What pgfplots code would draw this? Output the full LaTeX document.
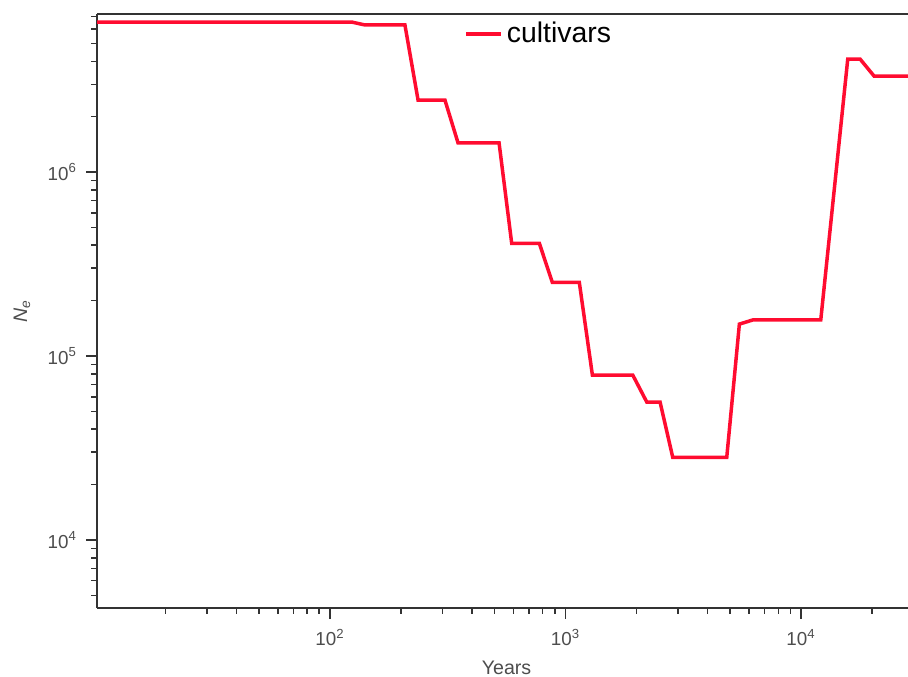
\documentclass[border=0pt]{standalone}
\usepackage{pgfplots}
\pgfplotsset{compat=1.18}
\usepackage{fontspec}
\setmainfont{Liberation Sans}
\definecolor{ne}{RGB}{255,12,48}
\definecolor{axgray}{RGB}{51,51,51}
\definecolor{lblgray}{RGB}{77,77,77}
\begin{document}
\begin{tikzpicture}
\begin{axis}[
  scale only axis,
  width=405.5pt, height=297pt,
  xmode=log, ymode=log,
  xmin=10.25, xmax=28440,
  ymin=4266, ymax=7.23e6,
  axis x line*=bottom, axis y line*=left,
  axis line style={-, draw=axgray, line width=1pt},
  clip=false,
  tick align=outside,
  major tick length=5.5pt, minor tick length=3pt,
  every tick/.style={draw=axgray, line width=0.75pt},
  xtick={100,1000,10000},
  xticklabels={10\textsuperscript{2},10\textsuperscript{3},10\textsuperscript{4}},
  minor xtick={20,30,40,50,60,70,80,90,200,300,400,500,600,700,800,900,2000,3000,4000,5000,6000,7000,8000,9000,20000},
  ytick={10000,100000,1000000},
  yticklabels={10\textsuperscript{4},10\textsuperscript{5},10\textsuperscript{6}},
  minor ytick={5000,6000,7000,8000,9000,20000,30000,40000,50000,60000,70000,80000,90000,200000,300000,400000,500000,600000,700000,800000,900000,2000000,3000000,4000000,5000000,6000000,7000000},
  tick label style={font=\fontsize{9.4}{11}\selectfont, text=lblgray},
  xticklabel style={yshift=-1.5pt},
  yticklabel style={xshift=-1pt},
  xlabel={Years},
  ylabel={\textit{N}\textsubscript{\textit{e}}},
  every axis x label/.style={at={(rel axis cs:0.505,-0.101)}, anchor=center, font=\fontsize{9.8}{12}\selectfont, text=lblgray},
  every axis y label/.style={at={(rel axis cs:-0.0925,0.5)}, anchor=center, rotate=90, font=\fontsize{9.8}{12}\selectfont, text=lblgray},
  legend style={at={(0.4525,0.9663)}, anchor=west, draw=none, fill=none, inner sep=0pt,
    font=\fontsize{14.2}{16}\selectfont},
  legend image code/.code={\draw[#1, line width=1.75pt] (0pt,0pt) -- (17.5pt,0pt);},
]
\addplot[ne, line width=1.75pt] coordinates {
(10.25,6.53e6) (124,6.53e6) (140.8,6.3e6) (208,6.3e6) (236.5,2.46e6) (307.6,2.46e6)
(349.6,1.44e6) (522,1.44e6) (590.7,4.10e5) (774,4.10e5) (879,2.51e5) (1144,2.51e5)
(1300,7.88e4) (1929,7.88e4) (2212,5.62e4) (2519,5.62e4) (2852,2.81e4) (4835,2.81e4)
(5470,1.49e5) (6237,1.57e5) (12120,1.57e5) (15780,4.11e6) (17810,4.11e6) (20420,3.32e6)
(28440,3.32e6)
};
\addlegendentry{cultivars}
\draw[axgray, line width=1pt] (rel axis cs:0,1) -- (rel axis cs:1,1);
\coordinate (ll) at (rel axis cs:0,0);
\coordinate (ur) at (rel axis cs:1,1);
\end{axis}
\pgfresetboundingbox
\path ([shift={(-48.5pt,-34.5pt)}]ll) rectangle ([shift={(0pt,7pt)}]ur);
\end{tikzpicture}
\end{document}
